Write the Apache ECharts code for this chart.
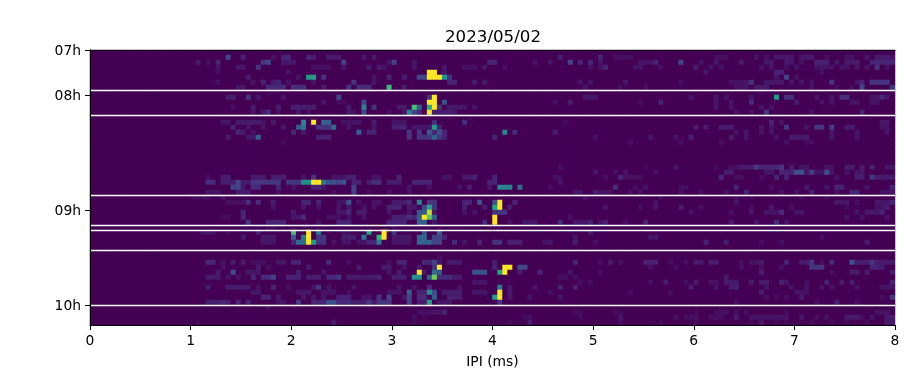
<!DOCTYPE html>
<html>
<head>
<meta charset="utf-8">
<style>
  html, body { margin: 0; background: #fff; }
  #chart { width: 905px; height: 375px; }
</style>
<script src="https://cdn.jsdelivr.net/npm/echarts@6/dist/echarts.min.js"></script>
</head>
<body>
<div id="chart"></div>
<script>
const title = '2023/05/02'
const xName = 'IPI (ms)'
const colCount = 160
const rowCount = 55
const xTicks = [0, 1, 2, 3, 4, 5, 6, 7, 8]
const hourLabels = ['07h', '08h', '09h', '10h']
const hourRows = [0, 9, 32, 51]
const breakRows = [8.1, 13.1, 29.1, 35.1, 36.1, 40.1, 51.1]
const viridis = ['#440154', '#482475', '#414487', '#355f8d', '#2a788e', '#21918c', '#22a884', '#44bf70', '#7ad151', '#bddf26', '#fde725']

// one line per row, top to bottom, flat col,value pairs (everything else is 0)
const rowCells = [
  [],
  [27,2, 30,1, 36,.5, 38,1, 39,1, 43,1, 44,.8, 47,.7, 48,.7, 49,.7, 54,.7, 56,.7, 93,.8, 101,1, 104,.4, 105,.4, 106,.4, 107,.4, 124,.4, 125,.4, 126,.4, 132,.5, 134,.4, 136,.6, 137,.6, 138,.6, 139,.6, 141,.6, 142,.7, 143,.7, 146,.4, 150,.5, 151,.5, 154,.5, 156,.7, 157,.7, 158,.7, 159,.5],
  [21,.7, 23,.4, 25,1, 34,1.5, 35,2, 38,.6, 39,.6, 40,.6, 50,2, 59,.5, 60,2, 64,.5, 79,1, 80,1, 88,.5, 91,.5, 95,2, 97,1, 99,1, 101,.5, 109,.5, 110,.5, 111,.5, 112,1, 117,2, 121,.5, 124,.6, 129,.7, 134,.6, 135,.6, 138,.6, 139,.6, 141,.5, 144,.9, 145,.9, 146,.9, 148,.6, 150,.7, 151,.7, 152,.7, 155,1, 156,1, 157,1, 158,1, 159,1],
  [25,.5, 29,.6, 30,.6, 33,1.5, 44,.4, 45,.4, 46,.4, 47,.4, 50,.5, 55,.8, 57,.7, 58,.5, 64,.5, 70,.6, 74,.4, 75,.4, 76,.4, 78,.6, 82,.4, 99,.5, 101,.5, 102,1, 108,.5, 109,.5, 113,.4, 120,.7, 123,.5, 125,.5, 133,.4, 135,.5, 138,.4, 140,.5, 144,.5, 145,.5, 146,.5, 147,.5, 149,.5, 150,.5, 152,.5, 154,.5, 156,1.5, 158,.5],
  [25,.3, 39,.5, 67,10, 68,10, 70,.6, 122,.5, 136,.9, 137,.9, 145,.4],
  [31,.7, 41,.5, 43,5.5, 44,5.5, 46,1.5, 56,.5, 59,1, 62,.8, 65,2, 66,2, 67,10, 68,10, 69,10, 70,5, 71,1.5, 136,.5, 138,2, 140,.4],
  [25,.4, 32,.5, 34,1, 36,.7, 37,1, 39,.5, 44,.5, 52,1.5, 56,.5, 71,1, 72,1, 76,.7, 78,.7, 97,.5, 99,.5, 106,.6, 117,.4, 127,.5, 128,.5, 129,.5, 130,.5, 131,1.5, 134,.6, 135,.6, 136,.6, 137,.6, 139,.5, 141,.5, 143,.5, 147,1.5, 152,.5, 153,1, 155,1.5, 156,1.5, 157,1.5, 158,1.5],
  [29,.6, 30,.6, 35,1.2, 36,1.2, 37,1.2, 38,1.2, 40,1.3, 41,1.3, 42,1.3, 46,.8, 51,1.5, 53,1.3, 54,1.3, 55,1.3, 59,6.8, 62,.8, 98,.6, 105,.4, 110,.4, 128,.5, 129,.5, 130,.5, 132,.7, 133,.7, 134,.7, 143,.5, 148,.4, 151,.4, 153,2, 159,1.5],
  [35,.2, 36,.2, 37,.2, 133,.2],
  [27,.8, 28,.8, 31,1.5, 33,.6, 38,.5, 49,2, 67,1.5, 68,10, 98,.6, 99,.6, 100,.6, 119,.6, 124,.5, 126,.5, 131,.5, 136,5.5, 138,1.3, 139,1.3, 144,.5, 147,.5, 149,1.3, 150,1.3, 155,.5, 156,.5, 157,1.2, 158,.5],
  [46,.6, 49,.3, 50,.3, 54,2.2, 67,10, 68,10, 70,2.5, 92,.4, 95,.7, 109,.3, 113,.9, 124,.5, 127,.5, 131,1.3, 140,.8, 145,.4, 147,.5, 151,.5, 152,.5, 155,.5, 156,.5],
  [28,.3, 32,.7, 37,.8, 40,.8, 41,.8, 42,.8, 43,.8, 44,.8, 51,.7, 54,4.5, 56,1.5, 61,.7, 62,.7, 64,7, 65,3, 67,6, 68,10, 69,1.5, 71,.7, 72,.6, 73,.6, 74,.6, 76,.5, 124,.5, 127,.5, 133,.5, 135,.5],
  [32,.5, 34,.7, 35,1.3, 37,.5, 41,.6, 43,.5, 51,.7, 52,.5, 54,2.2, 59,.4, 62,.5, 63,4.5, 64,2, 65,1.2, 67,10, 68,.8, 69,.8, 70,.8, 71,.8, 72,.6, 128,.5, 131,.5, 134,1.7, 143,.5, 153,1],
  [55,.2, 60,.2, 71,.2, 75,.2],
  [26,.6, 27,.6, 29,.7, 30,.7, 31,.7, 32,.7, 33,.7, 34,.5, 36,.7, 42,4.5, 44,10, 46,3, 47,3, 50,.5, 51,.5, 52,.5, 53,.5, 56,.8, 60,.5, 61,.5, 62,.5, 68,1.3, 74,1.3, 94,.3, 135,1, 137,.5, 157,.6, 158,.6],
  [28,1, 31,.5, 34,.5, 38,.5, 41,2.8, 42,4, 45,1.5, 46,1.5, 47,1.5, 48,3.5, 51,.5, 56,.6, 60,.9, 61,.9, 62,.9, 64,.6, 65,.6, 66,.6, 67,.6, 68,5.5, 69,1, 120,.8, 122,.8, 125,.7, 126,.7, 127,.7, 133,.5, 135,.5, 138,1.5, 142,.5, 144,1.5, 145,1.5, 147,1.8, 150,.7, 151,.7, 157,.5, 158,.5],
  [29,1, 30,.8, 32,.5, 40,1, 42,.7, 53,3, 55,1, 56,1, 63,1.5, 65,1.5, 67,3, 68,1, 69,2.5, 70,1, 82,4.5, 84,1.2, 92,.8, 128,.5, 130,.5, 133,.5, 135,.5, 147,.6, 152,.5, 158,.5],
  [27,.7, 31,.6, 32,.6, 33,3, 45,.9, 46,.9, 47,.9, 63,1.5, 65,1.5, 66,1.5, 67,1.5, 68,3.2, 69,1.5, 70,1, 80,1, 100,.4, 111,.5, 116,.5, 119,.8, 127,.8, 130,.5, 136,.5, 139,.7, 140,.7, 141,.7, 142,.7, 147,.6, 152,.5],
  [38,.3, 107,.4, 117,.4, 125,.4, 138,.4, 142,.4, 143,.4],
  [],
  [],
  [],
  [],
  [93,.4, 110,.3, 116,.6, 124,.3, 127,.4, 128,.4, 129,.7, 130,.7, 131,.7, 132,1.7, 133,1, 134,1, 135,1, 136,1, 137,1.5, 139,.8, 141,.5, 142,.5, 146,.5, 147,.5, 150,.7, 151,.7, 153,.7, 155,.9, 158,.5, 159,.5],
  [100,.6, 104,.4, 106,.5, 112,.4, 126,.8, 127,.8, 134,.6, 135,.6, 137,1, 138,1, 139,1, 140,2.5, 141,2.5, 142,.6, 143,1.8, 144,.6, 145,.6, 146,2.5, 147,.5, 150,.5, 152,.6, 153,.6],
  [23,.4, 26,.8, 27,.8, 32,.7, 33,.7, 34,.7, 36,.8, 37,.8, 38,.8, 42,.6, 44,1.5, 48,.5, 49,.5, 50,.5, 51,.9, 52,.9, 56,.5, 57,.5, 61,1, 70,.5, 71,.5, 74,.7, 75,.7, 76,1, 80,1, 92,.4, 93,.4, 102,.4, 105,1, 106,.4, 107,.4, 108,.4, 109,.4, 125,1.2, 128,.4, 129,.4, 133,.4, 136,1, 138,.9, 148,.5, 152,.8, 153,.8, 155,1.5, 156,.7, 157,.7, 158,.7, 159,.7],
  [23,1.3, 24,1.3, 26,.8, 27,.8, 28,.8, 29,2, 30,.7, 31,.7, 32,1.6, 33,1.6, 34,1.6, 35,1.6, 36,1.6, 37,1.5, 39,1.6, 40,1.6, 41,1.6, 42,5, 43,5, 44,10, 45,10, 46,4, 47,2.5, 48,2.5, 49,2, 50,2.5, 52,.9, 53,.9, 55,.8, 56,1.3, 57,1.3, 59,.8, 60,.8, 61,.8, 64,1, 65,1, 66,1, 67,1, 79,1, 80,1, 93,.5],
  [28,2, 29,2, 30,.6, 32,1.2, 33,1.2, 37,1, 40,.5, 44,1, 45,1, 46,.5, 52,2, 63,.5, 67,.5, 73,.5, 75,.8, 79,.6, 81,4.5, 82,4.5, 83,4.5, 85,3.5, 91,.4, 104,1.3, 108,.4, 110,.5, 117,.4, 118,.4, 128,1, 135,.4, 142,.7, 146,.5, 148,.9, 149,.9, 154,.5, 159,1],
  [23,.5, 24,.5, 25,.5, 29,.7, 30,.7, 31,.7, 37,.5, 48,.5, 52,2, 55,.4, 59,.5, 63,.5, 96,.6, 97,.6, 100,.8, 101,.5, 102,.5, 103,.5, 107,.5, 109,.5, 117,.5, 121,.4, 126,.5, 130,1, 137,.5, 140,.5, 143,.9, 148,.6, 151,1, 152,1, 157,.5, 158,.5, 159,.5],
  [20,.3, 21,.3, 22,.3, 23,.3, 26,.5, 98,.5, 113,.4, 128,.4, 131,.3, 141,.3, 146,.3],
  [27,.4, 28,.4, 29,.4, 30,.4, 31,1.3, 33,1.3, 36,.8, 42,1, 43,1, 45,1, 49,.5, 50,.5, 51,2.5, 53,.5, 56,.5, 57,.5, 60,.7, 61,.7, 62,.7, 63,1.2, 65,4.5, 67,1.5, 68,1.5, 74,1, 75,1, 77,2.5, 80,2.5, 81,10, 84,1, 112,.4, 128,.5, 148,.6, 149,.6, 150,.6, 152,.4, 156,.6, 157,.6, 158,.6, 159,1],
  [36,.5, 42,.5, 45,.5, 49,.5, 51,.7, 54,.5, 56,.5, 59,1, 60,1, 61,1, 63,.7, 64,.7, 66,2.2, 67,6, 68,1.5, 74,.8, 78,.8, 80,6, 81,10, 83,.8, 102,.5, 109,.4, 112,.5, 117,.7, 121,.4, 131,.4, 135,.6, 139,.4, 150,.4, 156,.5, 157,.5, 158,.8],
  [30,1, 40,.7, 49,.6, 50,.6, 51,1.2, 53,.8, 54,.8, 59,.5, 63,.5, 65,2.8, 66,2.8, 67,9, 68,.6, 74,.5, 76,.5, 80,1.5, 81,1.5, 82,1.5, 119,.4, 127,.4, 131,.5, 134,.5, 135,.5, 136,.5, 137,1.2, 140,.5, 141,.5, 152,.5, 154,.7, 155,.7, 156,.7, 157,1],
  [26,.3, 27,.3, 30,1, 40,.6, 41,.6, 42,1.2, 47,.4, 48,.4, 49,.4, 51,.5, 54,.5, 60,.9, 61,.9, 62,.9, 63,1.4, 64,1, 65,3.2, 66,10, 67,7.5, 68,3, 80,10, 95,.4, 150,.5, 153,.5, 158,.5],
  [31,1.5, 35,1, 36,1, 37,1, 38,1, 45,.5, 49,1, 50,1, 51,1, 59,1, 60,1, 61,1, 62,1, 65,3, 66,3, 68,.6, 78,1.2, 80,10, 83,.5, 86,.6, 87,.6, 88,.6, 93,1.3, 96,.6, 97,.6, 98,.6, 99,.9, 101,.5, 102,.9, 106,.4, 110,1, 127,.7, 132,.5, 136,1.2, 138,.5],
  [35,.2, 36,.2, 42,.2, 60,.2, 72,.2],
  [22,.5, 23,.5, 24,.5, 27,.3, 33,.8, 40,7, 43,10, 45,4, 50,.4, 51,.4, 55,5.8, 58,10, 60,1.5, 66,2.5, 69,3.2, 99,.7],
  [30,.7, 34,.6, 35,.6, 36,.6, 40,2.8, 42,4, 43,10, 45,1.5, 46,1.5, 50,.8, 51,.8, 52,.8, 54,4, 57,6.5, 58,10, 60,.6, 61,.6, 62,.6, 63,.6, 65,3.2, 66,3.2, 68,2, 69,2, 70,1, 96,.5, 111,.6, 112,.6, 145,.4],
  [34,.6, 35,.6, 36,.6, 40,1, 41,3.6, 42,3.6, 43,10, 44,5.5, 45,1.5, 46,1.5, 48,.5, 50,.5, 51,.5, 53,.5, 54,.5, 55,1, 56,1, 57,4, 60,.6, 61,.6, 62,.6, 63,.6, 65,3.2, 66,3.2, 67,3.2, 68,2, 69,2, 72,1.2, 74,.5, 77,1, 80,1.5, 81,1.5, 83,.9, 84,.9, 85,.9, 90,.5, 91,.6, 96,.8, 100,.4, 122,.9, 126,.8, 133,.4, 137,.4, 154,.7],
  [],
  [],
  [69,.4],
  [23,1, 24,1, 26,.5, 28,.7, 30,.8, 32,.4, 33,.4, 34,.4, 37,.6, 38,.6, 40,1, 41,1, 47,1.2, 51,.4, 59,.4, 61,1, 62,1, 66,1, 67,1, 68,2, 69,.6, 71,.7, 72,.7, 73,.7, 80,.7, 96,1, 101,.4, 103,.7, 105,.4, 110,.9, 111,.9, 112,.9, 115,.4, 118,.4, 120,.7, 121,.7, 123,.8, 124,.8, 129,.4, 131,.5, 132,.5, 133,.8, 138,.9, 141,.7, 142,.7, 143,1.5, 145,.4, 147,1.2, 151,2.5, 152,.8, 153,.8, 154,.8, 155,1.5, 156,.7, 157,.7, 158,.7, 159,.7],
  [26,.4, 33,.7, 35,.4, 43,.7, 53,.8, 58,.7, 59,.7, 62,.5, 65,.7, 68,1.5, 69,10, 80,1, 82,10, 83,10, 85,2.2, 86,2.2, 111,.4, 116,.4, 129,.4, 133,.4, 137,.4, 143,1.5, 144,1.5, 145,1.5, 155,1, 156,1, 157,.7],
  [25,.7, 28,2.4, 31,.6, 32,.6, 33,.6, 41,.8, 46,.6, 59,.5, 61,.8, 65,10, 66,.7, 68,3.6, 69,2.8, 76,2.6, 77,2.6, 78,2.6, 81,5.8, 82,10, 85,.7, 89,1, 95,.6, 101,.4, 133,.8, 147,.4, 151,.7, 152,.7, 154,.8, 159,.8],
  [23,.7, 24,.7, 25,.7, 27,.5, 29,.5, 32,1, 34,1.2, 35,1.2, 36,2, 39,.9, 40,.9, 41,.9, 43,.8, 44,.8, 45,.8, 47,1.1, 48,1.1, 49,1.5, 51,.7, 52,.7, 53,.7, 54,.7, 55,.7, 56,.7, 57,1, 60,.8, 61,.8, 62,.8, 64,5, 65,5, 67,3, 68,7.8, 69,1.2, 70,1.2, 71,1.2, 72,.7, 73,.7, 93,.4, 94,.4, 96,.4, 126,.7],
  [76,.6, 77,.6, 78,.6, 97,.4, 99,.4, 111,.4, 114,.8, 118,.4, 120,.7, 123,.5, 124,.5, 126,.7, 127,.7, 128,.7, 131,.7, 133,.7, 134,.7, 137,.9, 138,.5, 142,.4, 146,.9, 149,.7, 151,.8, 159,.9],
  [23,.8, 27,.7, 28,.7, 29,.7, 30,.7, 31,.7, 33,.5, 36,1, 39,.4, 44,.5, 45,1.5, 47,.5, 52,.5, 61,.5, 64,.5, 67,1.2, 73,.5, 81,4.2, 83,.6, 88,.5, 93,.9, 96,.9, 119,.8, 124,.5, 127,.8, 128,.8, 134,.5, 139,.5, 142,.5, 145,.5, 147,.5, 152,.5, 157,.5, 158,.5, 159,.5],
  [32,.6, 33,.6, 41,.6, 42,.6, 43,.6, 46,.5, 47,.5, 48,.5, 51,.4, 59,.5, 60,.5, 61,.5, 63,3, 65,1, 66,1, 67,5, 68,2.2, 70,.8, 71,.8, 72,.8, 73,.8, 76,.6, 77,.6, 78,.6, 81,10, 83,.7, 91,.4, 107,.3, 115,.3, 133,.8, 140,.5, 141,.5, 142,.5],
  [34,1, 35,1, 37,.6, 42,.6, 44,.6, 46,.6, 49,.9, 50,.9, 51,.9, 54,.5, 55,.5, 57,1.5, 59,2, 62,.6, 63,2.2, 65,1.2, 66,1.2, 68,2.8, 71,.8, 72,.8, 73,.8, 80,5.5, 81,10, 83,.6, 87,.5, 93,.5, 134,.4, 136,.4, 138,.4, 141,.7, 157,.4, 159,1.5],
  [23,.8, 24,.8, 25,.8, 26,1, 27,.8, 29,1, 31,1, 37,.5, 38,.5, 41,1.7, 44,1, 45,1, 46,1, 47,2.4, 48,2.4, 49,1.2, 50,1.2, 51,1.2, 52,.8, 53,.8, 54,.8, 55,1.5, 56,.7, 57,1.5, 58,1.5, 59,1.5, 63,2.2, 65,.8, 66,.8, 67,5.8, 69,.6, 70,.6, 71,.6, 81,1.5, 128,.4, 144,.4, 148,.9, 152,.4],
  [35,.5, 40,.2, 55,.2],
  [65,.4, 66,.4, 67,.4, 68,.5, 69,.5, 70,1, 96,.3, 97,.3, 104,.3, 105,.3, 120,.3, 124,.4, 125,.4, 126,.4, 128,.4, 130,.4, 138,.3, 156,.5, 157,.5, 158,.5],
  [64,.4, 66,.2, 86,.3, 87,.4, 97,.3, 105,.5, 116,.4, 118,.4, 119,.4, 120,.4, 123,.4, 124,.4, 125,.4, 128,.7, 131,.5, 132,.5, 133,.5, 134,.5, 135,.5, 136,.5, 137,.5, 138,.5, 141,.6, 144,.4, 146,.4, 150,.7, 151,.7, 152,.7, 153,.4, 155,.5, 158,.7, 159,.7],
  [21,.3, 48,.7, 64,.3, 83,.3, 87,.7, 105,.4, 113,.3, 120,.3, 131,.3, 133,.7, 136,.3, 138,.3, 143,.3, 147,.3, 150,.3, 154,.3, 158,.7, 159,.7]
]

const buildCells = () => {
  const cells = []
  for (let r = 0; r < rowCount; r++) {
    const vals = new Array(colCount).fill(0)
    const pairs = rowCells[r]
    for (let i = 0; i < pairs.length; i += 2) vals[pairs[i]] = pairs[i + 1]
    vals.forEach((v, c) => cells.push([c, r, v]))
  }
  return cells
}

// pale halo plus a crisp white core, same look as an antialiased 1.5px line
const breakLines = (width, opacity) => ({
  type: 'line',
  xAxisIndex: 1,
  yAxisIndex: 1,
  data: [],
  silent: true,
  z: 5,
  markLine: {
    silent: true,
    symbol: 'none',
    animation: false,
    label: { show: false },
    lineStyle: { color: '#fff', width, type: 'solid', opacity },
    data: breakRows.map(row => ({ yAxis: row }))
  }
})

const textColor = '#000'
const textFont = 'DejaVu Sans'
const chart = echarts.init(document.getElementById('chart'), null, { renderer: 'canvas' })
chart.setOption({
  animation: false,
  backgroundColor: '#fff',
  title: {
    text: title,
    left: 440,
    top: 24,
    textStyle: { color: textColor, fontFamily: textFont, fontSize: 16.67, fontWeight: 'normal' }
  },
  grid: { show: true, backgroundColor: viridis[0], borderWidth: 0, left: 90, right: 10, top: 50, bottom: 50 },
  visualMap: {
    show: false,
    min: 0,
    max: 10,
    seriesIndex: 0,
    dimension: 2,
    inRange: { color: viridis }
  },
  xAxis: [
    {
      type: 'category',
      position: 'top',
      data: Array.from({ length: colCount }, (_, i) => i),
      z: 10,
      axisTick: { show: false },
      axisLabel: { show: false },
      splitLine: { show: false },
      axisLine: { lineStyle: { color: '#000', width: 1 } }
    },
    {
      type: 'value',
      position: 'bottom',
      min: 0,
      max: 8,
      interval: 1,
      z: 10,
      name: xName,
      nameLocation: 'middle',
      nameGap: 30,
      nameTextStyle: { color: textColor, fontFamily: textFont, fontSize: 13.89 },
      splitLine: { show: false },
      axisTick: { length: 5, lineStyle: { color: '#000', width: 1 } },
      axisLine: { onZero: false, lineStyle: { color: '#000', width: 1 } },
      axisLabel: {
        color: textColor,
        fontFamily: textFont,
        fontSize: 13.89,
        margin: 9,
        showMinLabel: true,
        showMaxLabel: true,
        customValues: xTicks
      }
    }
  ],
  yAxis: [
    {
      type: 'category',
      position: 'right',
      inverse: true,
      data: Array.from({ length: rowCount }, (_, i) => i),
      z: 10,
      axisTick: { show: false },
      axisLabel: { show: false },
      splitLine: { show: false },
      axisLine: { lineStyle: { color: '#000', width: 1 } }
    },
    {
      type: 'value',
      position: 'left',
      inverse: true,
      min: 0,
      max: rowCount,
      z: 10,
      splitLine: { show: false },
      axisTick: { length: 5, customValues: hourRows, lineStyle: { color: '#000', width: 1 } },
      axisLine: { onZero: false, lineStyle: { color: '#000', width: 1 } },
      axisLabel: {
        color: textColor,
        fontFamily: textFont,
        fontSize: 13.89,
        margin: 9,
        verticalAlign: 'top',
        lineHeight: 3,
        customValues: hourRows,
        formatter: value => hourLabels[hourRows.indexOf(value)] || ''
      }
    }
  ],
  series: [
    {
      type: 'heatmap',
      xAxisIndex: 0,
      yAxisIndex: 0,
      data: buildCells(),
      progressive: 0,
      itemStyle: { borderWidth: 0 },
      emphasis: { disabled: true },
      silent: true
    },
    breakLines(3, 0.25),
    breakLines(1, 1)
  ]
})
</script>
</body>
</html>
